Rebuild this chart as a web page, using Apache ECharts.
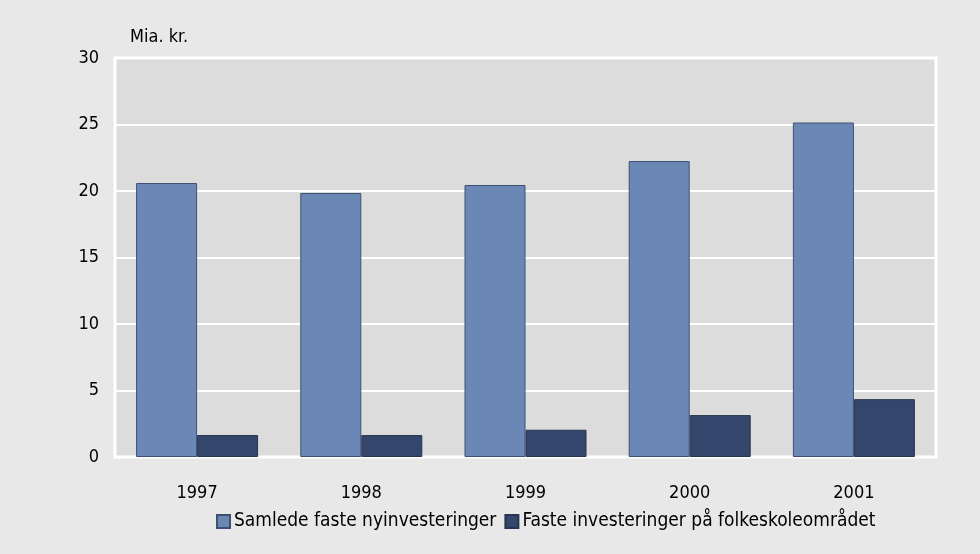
<!DOCTYPE html>
<html>
<head>
<meta charset="utf-8">
<script src="https://cdn.jsdelivr.net/npm/echarts@6/dist/echarts.min.js"></script>
<style>
  html, body { margin: 0; padding: 0; background: #e8e8e8; }
  #chart { width: 980px; height: 554px; }
</style>
</head>
<body>
<div id="chart"></div>
<script>
var years = ['1997', '1998', '1999', '2000', '2001'];
var samlede = [20.6, 19.85, 20.45, 22.25, 25.15];
var folkeskole = [1.65, 1.65, 2.05, 3.15, 4.35];
var seriesNames = ['Samlede faste nyinvesteringer', 'Faste investeringer på folkeskoleområdet'];

var chartDom = document.getElementById('chart');
var myChart = echarts.init(chartDom);
var font = '"DejaVu Sans Condensed", "Roboto Condensed", "Roboto", sans-serif';

var option = {
  backgroundColor: '#e8e8e8',
  textStyle: { fontFamily: font },
  grid: {
    left: 115, right: 44, top: 58, bottom: 97,
    show: true, backgroundColor: '#dcdcdc', borderColor: '#ffffff', borderWidth: 3
  },
  legend: {
    top: 507,
    left: 211,
    itemWidth: 13, itemHeight: 13, itemGap: 8,
    icon: 'rect',
    textStyle: { fontFamily: font, fontSize: 19, color: '#000', padding: [0, 0, 0, -1] },
    data: seriesNames
  },
  xAxis: {
    type: 'category',
    data: years,
    axisLine: { show: false },
    axisTick: { show: false },
    axisLabel: { fontFamily: font, fontSize: 18, color: '#000', margin: 27 }
  },
  yAxis: {
    type: 'value',
    min: 0, max: 30, interval: 5,
    name: 'Mia. kr.',
    nameLocation: 'end',
    nameGap: 12,
    nameTextStyle: { fontFamily: font, fontSize: 18, color: '#000', align: 'left', padding: [0, 0, 0, 15] },
    axisLine: { show: false },
    axisTick: { show: false },
    axisLabel: { fontFamily: font, fontSize: 18, color: '#000', margin: 16 },
    splitLine: { lineStyle: { color: '#ffffff', width: 2 } }
  },
  series: [
    {
      name: seriesNames[0],
      type: 'bar',
      data: samlede,
      barWidth: 61,
      barGap: '0%',
      itemStyle: { color: '#6b87b5', borderColor: '#3e5070', borderWidth: 1 }
    },
    {
      name: seriesNames[1],
      type: 'bar',
      data: folkeskole,
      barWidth: 61,
      barGap: '0%',
      itemStyle: { color: '#34466b', borderColor: '#283550', borderWidth: 1 }
    }
  ]
};

option && myChart.setOption(option);
</script>
</body>
</html>
